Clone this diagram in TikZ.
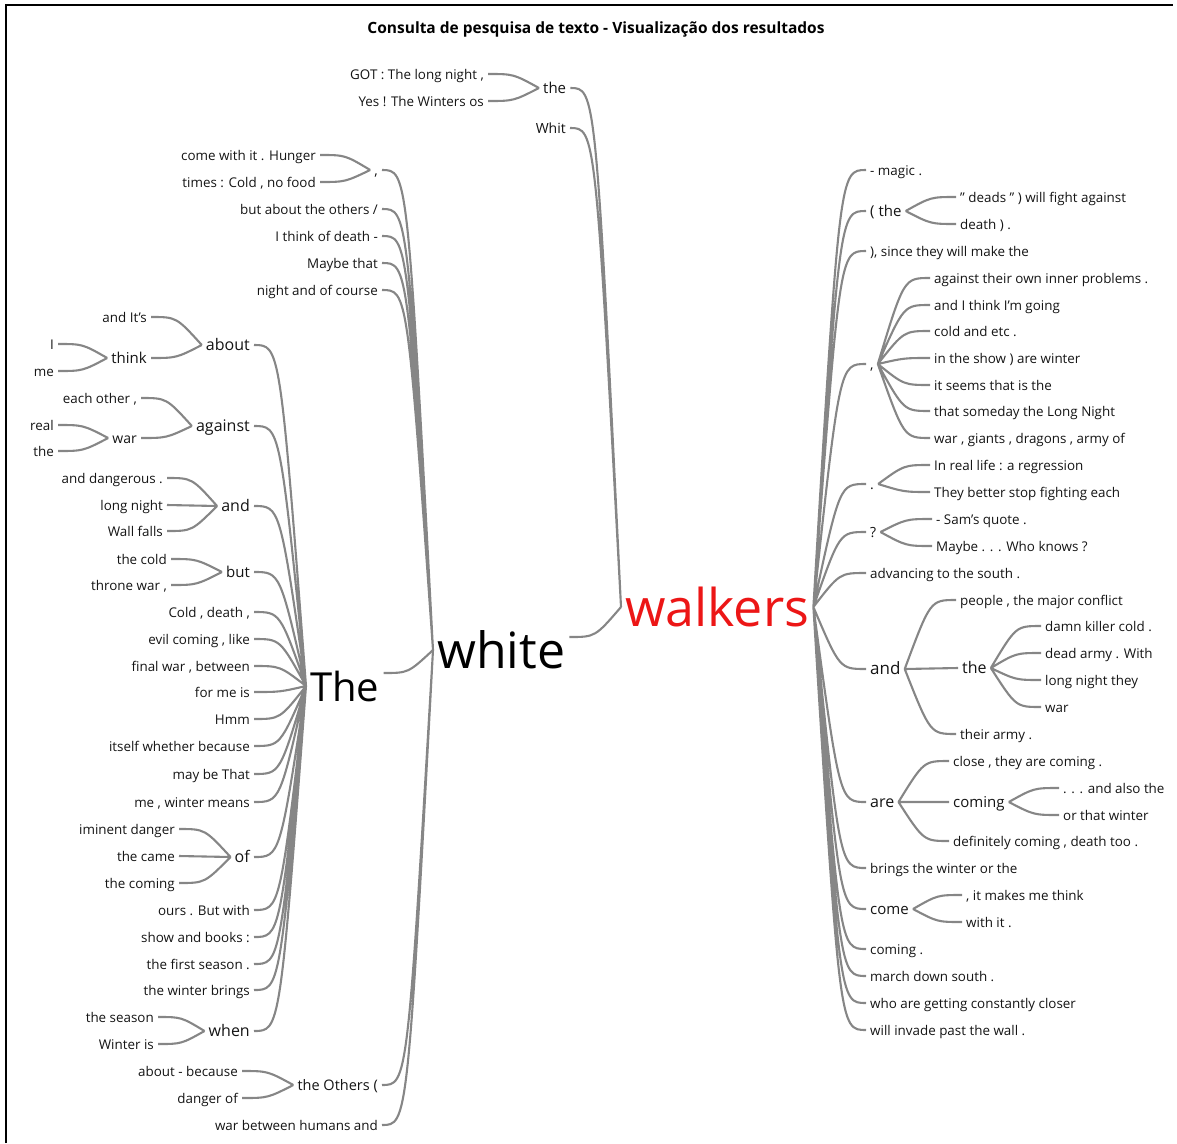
\documentclass[tikz,border=0pt]{standalone}
\usepackage{fontspec}
\setmainfont{Open Sans}
\usetikzlibrary{calc}

\definecolor{twiggray}{RGB}{134,134,134}
\definecolor{hitred}{RGB}{236,22,22}

\tikzset{
  twig/.style={draw=twiggray, line width=2.1pt,
    to path={.. controls ($(\tikztostart)!0.5!(\tikztotarget |- \tikztostart)$) .. (\tikztotarget)}},
  leaf/.style={inner xsep=4pt, inner ysep=1pt, text=black!92,
    font=\fontsize{13.4}{15}\selectfont, text height=13pt, text depth=3pt},
  mid/.style={leaf, font=\fontsize{#1}{#1}\selectfont, text height=0.72*#1 pt+3.5pt, text depth=0.24*#1 pt},
  big/.style={inner xsep=4pt, inner ysep=1pt, font=\fontsize{#1}{#1}\selectfont},
  title/.style={font=\bfseries\fontsize{15.5}{17}\selectfont}
}

\begin{document}
\begin{tikzpicture}[x=1pt, y=-1pt]

        \useasboundingbox (0,0) rectangle (1177,1143);
        \draw[line width=2pt] (6,1143) -- (6,5) -- (1173,5);
        \node[title] (head) at (596,29) {Consulta de pesquisa de texto - Visualização dos resultados};

        % Define the three centre words
        \node[big=52, anchor=west, text=hitred] (walkers) at (621,607) {walkers};
        \node[big=50, anchor=west] (white) at (433,650) {white};
        \node[big=40, anchor=west] (The) at (306,686) {The};

        % Words before walkers
        \node[mid=15, anchor=west] (the0) at (539,88) {the};
        \node[leaf, anchor=east] (got) at (488,74) {GOT : The long night ,};
        \node[leaf, anchor=east] (yes) at (488,101) {Yes ! The Winters os};
        \node[mid=14, anchor=east] (whit) at (570,128) {Whit};

        % Words before white
        \node[mid=14, anchor=east] (comma0) at (382,170) {,};
        \node[leaf, anchor=east] (hunger) at (320,155) {come with it . Hunger};
        \node[leaf, anchor=east] (nofood) at (320,182) {times : Cold , no food};
        \node[leaf, anchor=east] (others) at (382,209) {but about the others /};
        \node[leaf, anchor=east] (ideath) at (382,236) {I think of death -};
        \node[leaf, anchor=east] (maybe) at (382,263) {Maybe that};
        \node[leaf, anchor=east] (course) at (382,290) {night and of course};
        \node[mid=14.5, anchor=east] (theothers) at (382,1085) {the Others (};
        \node[leaf, anchor=east] (because) at (242,1071) {about - because};
        \node[leaf, anchor=east] (dangerof) at (242,1098) {danger of};
        \node[leaf, anchor=east] (humans) at (382,1125) {war between humans and};

        % Words before The
        \node[mid=16, anchor=east] (about) at (254,345) {about};
        \node[leaf, anchor=east] (andits) at (151,317) {and It's};
        \node[mid=15, anchor=east] (think) at (151,358) {think};
        \node[leaf, anchor=east] (thinki) at (58,344) {I};
        \node[leaf, anchor=east] (thinkme) at (58,371) {me};
        \node[mid=16, anchor=east] (against) at (254,426) {against};
        \node[leaf, anchor=east] (eachother) at (141,398) {each other ,};
        \node[mid=14, anchor=east] (war) at (141,438) {war};
        \node[leaf, anchor=east] (real) at (58,425) {real};
        \node[leaf, anchor=east] (warthe) at (58,451) {the};
        \node[mid=16, anchor=east] (and0) at (254,506) {and};
        \node[leaf, anchor=east] (dangerous) at (167,478) {and dangerous .};
        \node[leaf, anchor=east] (longnight) at (167,505) {long night};
        \node[leaf, anchor=east] (wallfalls) at (167,531) {Wall falls};
        \node[mid=15, anchor=east] (but) at (254,572) {but};
        \node[leaf, anchor=east] (thecold) at (171,559) {the cold};
        \node[leaf, anchor=east] (throne) at (171,585) {throne war ,};
        \node[leaf, anchor=east] (colddeath) at (254,612) {Cold , death ,};
        \node[leaf, anchor=east] (evil) at (254,639) {evil coming , like};
        \node[leaf, anchor=east] (finalwar) at (254,666) {final war , between};
        \node[leaf, anchor=east] (forme) at (254,692) {for me is};
        \node[leaf, anchor=east] (hmm) at (254,719) {Hmm};
        \node[leaf, anchor=east] (itself) at (254,746) {itself whether because};
        \node[leaf, anchor=east] (maybethat) at (254,774) {may be That};
        \node[leaf, anchor=east] (means) at (254,802) {me , winter means};
        \node[mid=16, anchor=east] (of) at (254,857) {of};
        \node[leaf, anchor=east] (iminent) at (179,829) {iminent danger};
        \node[leaf, anchor=east] (came) at (179,856) {the came};
        \node[leaf, anchor=east] (thecoming) at (179,883) {the coming};
        \node[leaf, anchor=east] (ours) at (254,910) {ours . But with};
        \node[leaf, anchor=east] (books) at (254,937) {show and books :};
        \node[leaf, anchor=east] (firstseason) at (254,964) {the first season .};
        \node[leaf, anchor=east] (brings0) at (254,990) {the winter brings};
        \node[mid=16, anchor=east] (when) at (254,1031) {when};
        \node[leaf, anchor=east] (season) at (158,1017) {the season};
        \node[leaf, anchor=east] (winteris) at (158,1044) {Winter is};

        % Words after walkers
        \node[leaf, anchor=west] (magic) at (866,170) {- magic .};
        \node[mid=15, anchor=west] (lthe) at (866,211) {( the};
        \node[leaf, anchor=west] (deads) at (956,197) {" deads " ) will fight against};
        \node[leaf, anchor=west] (deathp) at (956,224) {death ) .};
        \node[leaf, anchor=west] (since) at (866,251) {), since they will make the};
        \node[mid=14, anchor=west] (rcomma) at (866,364) {,};
        \node[leaf, anchor=west] (inner) at (930,278) {against their own inner problems .};
        \node[leaf, anchor=west] (going) at (930,305) {and I think I'm going};
        \node[leaf, anchor=west] (etc) at (930,331) {cold and etc .};
        \node[leaf, anchor=west] (show) at (930,358) {in the show ) are winter};
        \node[leaf, anchor=west] (seems) at (930,385) {it seems that is the};
        \node[leaf, anchor=west] (someday) at (930,411) {that someday the Long Night};
        \node[leaf, anchor=west] (giants) at (930,438) {war , giants , dragons , army of};
        \node[mid=14, anchor=west] (rdot) at (866,484) {.};
        \node[leaf, anchor=west] (reallife) at (930,465) {In real life : a regression};
        \node[leaf, anchor=west] (fighting) at (930,492) {They better stop fighting each};
        \node[mid=14, anchor=west] (rquest) at (866,532) {?};
        \node[leaf, anchor=west] (sam) at (932,519) {- Sam's quote .};
        \node[leaf, anchor=west] (knows) at (932,546) {Maybe . . . Who knows ?};
        \node[leaf, anchor=west] (advancing) at (866,573) {advancing to the south .};
        \node[mid=17, anchor=west] (rand) at (866,669) {and};
        \node[leaf, anchor=west] (people) at (956,600) {people , the major conflict};
        \node[mid=16, anchor=west] (rthe) at (958,668) {the};
        \node[leaf, anchor=west] (killer) at (1041,626) {damn killer cold .};
        \node[leaf, anchor=west] (deadarmy) at (1041,653) {dead army . With};
        \node[leaf, anchor=west] (theylong) at (1041,680) {long night they};
        \node[leaf, anchor=west] (rwar) at (1041,707) {war};
        \node[leaf, anchor=west] (army) at (956,734) {their army .};
        \node[mid=16, anchor=west] (rare) at (866,802) {are};
        \node[leaf, anchor=west] (close) at (949,761) {close , they are coming .};
        \node[mid=15, anchor=west] (rcoming) at (949,802) {coming};
        \node[leaf, anchor=west] (alsothe) at (1059,788) {. . . and also the};
        \node[leaf, anchor=west] (thatwinter) at (1059,815) {or that winter};
        \node[leaf, anchor=west] (definitely) at (949,841) {definitely coming , death too .};
        \node[leaf, anchor=west] (bringsthe) at (866,868) {brings the winter or the};
        \node[mid=15, anchor=west] (rcome) at (866,909) {come};
        \node[leaf, anchor=west] (makesme) at (962,895) {, it makes me think};
        \node[leaf, anchor=west] (withit) at (962,922) {with it .};
        \node[leaf, anchor=west] (comingdot) at (866,949) {coming .};
        \node[leaf, anchor=west] (march) at (866,976) {march down south .};
        \node[leaf, anchor=west] (closer) at (866,1003) {who are getting constantly closer};
        \node[leaf, anchor=west] (invade) at (866,1030) {will invade past the wall .};

        % Branches on the left
        \draw[twig] (got.east) to (the0.west) (yes.east) to (the0.west);
        \draw[twig] (the0.east) to (walkers.west) (whit.east) to (walkers.west);
        \draw[twig] ([yshift=13pt]white.east) to (walkers.west);
        \draw[twig] (hunger.east) to (comma0.west) (nofood.east) to (comma0.west);
        \draw[twig] (because.east) to (theothers.west) (dangerof.east) to (theothers.west);
        \draw[twig] (comma0.east) to (white.west) (others.east) to (white.west)
                    (ideath.east) to (white.west) (maybe.east) to (white.west)
                    (course.east) to (white.west) (theothers.east) to (white.west)
                    (humans.east) to (white.west);
        \draw[twig] ([yshift=13pt]The.east) to (white.west);
        \draw[twig] (thinki.east) to (think.west) (thinkme.east) to (think.west);
        \draw[twig] (andits.east) to (about.west) (think.east) to (about.west);
        \draw[twig] (real.east) to (war.west) (warthe.east) to (war.west);
        \draw[twig] (eachother.east) to (against.west) (war.east) to (against.west);
        \draw[twig] (dangerous.east) to (and0.west) (longnight.east) to (and0.west)
                    (wallfalls.east) to (and0.west);
        \draw[twig] (thecold.east) to (but.west) (throne.east) to (but.west);
        \draw[twig] (iminent.east) to (of.west) (came.east) to (of.west)
                    (thecoming.east) to (of.west);
        \draw[twig] (season.east) to (when.west) (winteris.east) to (when.west);
        \draw[twig] (about.east) to (The.west) (against.east) to (The.west)
                    (and0.east) to (The.west) (but.east) to (The.west)
                    (colddeath.east) to (The.west) (evil.east) to (The.west)
                    (finalwar.east) to (The.west) (forme.east) to (The.west)
                    (hmm.east) to (The.west) (itself.east) to (The.west)
                    (maybethat.east) to (The.west) (means.east) to (The.west)
                    (of.east) to (The.west) (ours.east) to (The.west)
                    (books.east) to (The.west) (firstseason.east) to (The.west)
                    (brings0.east) to (The.west) (when.east) to (The.west);

        % Branches on the right
        \draw[twig] (magic.west) to (walkers.east) (lthe.west) to (walkers.east)
                    (since.west) to (walkers.east) (rcomma.west) to (walkers.east)
                    (rdot.west) to (walkers.east) (rquest.west) to (walkers.east)
                    (advancing.west) to (walkers.east) (rand.west) to (walkers.east)
                    (rare.west) to (walkers.east) (bringsthe.west) to (walkers.east)
                    (rcome.west) to (walkers.east) (comingdot.west) to (walkers.east)
                    (march.west) to (walkers.east) (closer.west) to (walkers.east)
                    (invade.west) to (walkers.east);
        \draw[twig] (deads.west) to (lthe.east) (deathp.west) to (lthe.east);
        \draw[twig] (inner.west) to (rcomma.east) (going.west) to (rcomma.east)
                    (etc.west) to (rcomma.east) (show.west) to (rcomma.east)
                    (seems.west) to (rcomma.east) (someday.west) to (rcomma.east)
                    (giants.west) to (rcomma.east);
        \draw[twig] (reallife.west) to (rdot.east) (fighting.west) to (rdot.east);
        \draw[twig] (sam.west) to (rquest.east) (knows.west) to (rquest.east);
        \draw[twig] (people.west) to (rand.east) (rthe.west) to (rand.east)
                    (army.west) to (rand.east);
        \draw[twig] (killer.west) to (rthe.east) (deadarmy.west) to (rthe.east)
                    (theylong.west) to (rthe.east) (rwar.west) to (rthe.east);
        \draw[twig] (close.west) to (rare.east) (rcoming.west) to (rare.east)
                    (definitely.west) to (rare.east);
        \draw[twig] (alsothe.west) to (rcoming.east) (thatwinter.west) to (rcoming.east);
        \draw[twig] (makesme.west) to (rcome.east) (withit.west) to (rcome.east);

    \end{tikzpicture}
\end{document}
